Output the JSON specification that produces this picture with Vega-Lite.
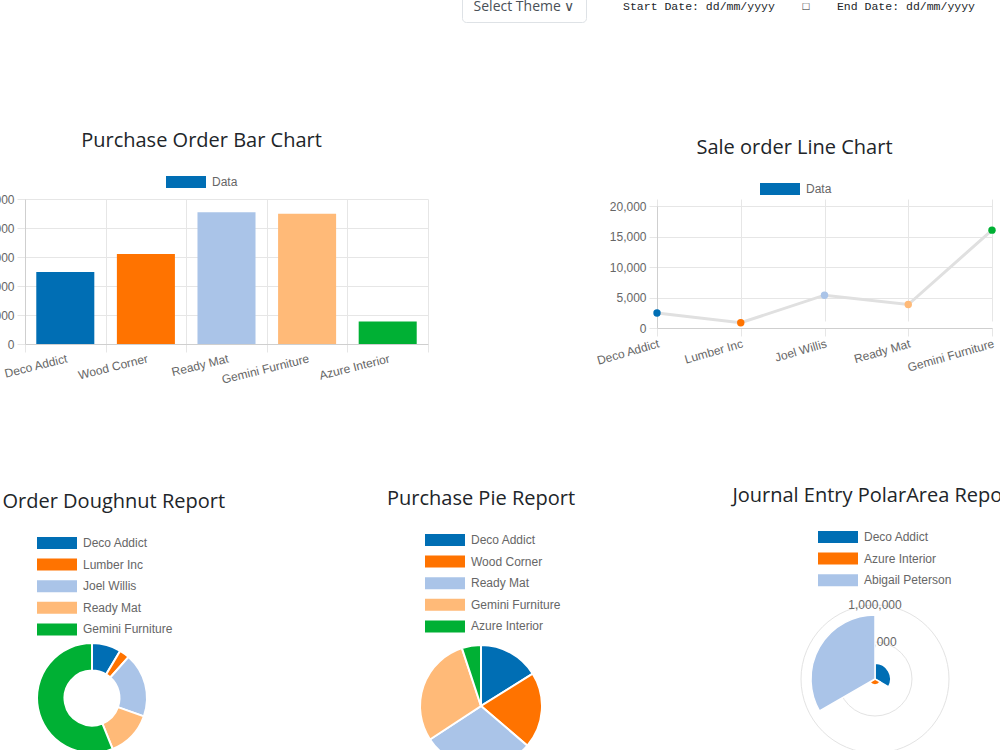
{
  "$schema": "https://vega.github.io/schema/vega-lite/v6.json",
  "autosize": {"type": "none"},
  "padding": {"left": 25, "top": -5, "right": 975, "bottom": 755},
  "background": "white",
  "config": {
    "view": {"stroke": null},
    "axis": {"labelFont": "Liberation Sans", "labelFontSize": 12, "labelColor": "#666666", "gridColor": "#e6e6e6", "tickColor": "#e6e6e6", "domainColor": "#cfcfcf", "tickSize": 8, "title": null},
    "title": {"font": "Open Sans", "fontSize": 20, "fontWeight": "normal", "color": "#212529"},
    "legend": {"labelFont": "Liberation Sans", "labelFontSize": 12, "labelColor": "#666666"}
  },
  "datasets": {
    "purchase": [
      {"partner": "Deco Addict", "amount": 24800},
      {"partner": "Wood Corner", "amount": 31000},
      {"partner": "Ready Mat", "amount": 45400},
      {"partner": "Gemini Furniture", "amount": 44900},
      {"partner": "Azure Interior", "amount": 7800}
    ],
    "sales": [
      {"partner": "Deco Addict", "amount": 2450},
      {"partner": "Lumber Inc", "amount": 860},
      {"partner": "Joel Willis", "amount": 5380},
      {"partner": "Ready Mat", "amount": 3850},
      {"partner": "Gemini Furniture", "amount": 16040}
    ],
    "journal": [
      {"partner": "Deco Addict", "amount": 212000},
      {"partner": "Azure Interior", "amount": 80000},
      {"partner": "Abigail Peterson", "amount": 865000}
    ],
    "polarTicks": [{"tick": 500000}, {"tick": 1000000}],
    "themeSelect": [{"label": "Select Theme ∨"}],
    "dateFilters": [{"label": "Start Date: dd/mm/yyyy\u00a0\u00a0\u00a0\u00a0□\u00a0\u00a0\u00a0\u00a0End Date: dd/mm/yyyy"}],
    "empty": []
  },
  "resolve": {
    "scale": {"color": "independent", "fill": "independent", "radius": "independent", "theta": "independent", "size": "independent"},
    "legend": {"color": "independent", "fill": "independent", "size": "independent"}
  },
  "columns": 3,
  "align": "each",
  "bounds": "flush",
  "spacing": {"row": 170, "column": 34},
  "concat": [
    {
      "width": 10, "height": 34,
      "data": {"name": "empty"},
      "mark": "point",
      "encoding": {}
    },
    {
      "width": 124, "height": 27,
      "view": {"stroke": "#dee2e6", "cornerRadius": 4},
      "data": {"name": "themeSelect"},
      "mark": {"type": "text", "font": "Open Sans", "fontSize": 14, "color": "#495057", "baseline": "middle", "dy": -2},
      "encoding": {"text": {"field": "label", "type": "nominal"}}
    },
    {
      "width": 636, "height": 27,
      "data": {"name": "dateFilters"},
      "mark": {"type": "text", "font": "Liberation Mono", "fontSize": 11.5, "color": "#212529", "align": "right", "baseline": "middle", "dy": -2},
      "encoding": {"text": {"field": "label", "type": "nominal"}}
    },
    {
      "width": 403, "height": 145,
      "title": {"text": "Purchase Order Bar Chart", "dx": -25, "offset": 25},
      "data": {"name": "purchase"},
      "encoding": {
        "x": {"field": "partner", "type": "nominal", "sort": null, "scale": {"paddingInner": 0, "paddingOuter": 0},
              "axis": {"labelAngle": -14, "labelAlign": "right", "labelBaseline": "top", "tickBand": "extent", "grid": true, "labelPadding": 1}},
        "y": {"field": "amount", "type": "quantitative", "scale": {"domain": [0, 50000], "nice": false},
              "axis": {"values": [0, 10000, 20000, 30000, 40000, 50000], "labelExpr": "format(datum.value, ',')", "grid": true, "labelPadding": 3}}
      },
      "layer": [
        {
          "mark": {"type": "bar", "width": {"band": 0.72}},
          "encoding": {
            "color": {"field": "partner", "type": "nominal", "sort": null,
                      "scale": {"domain": ["Deco Addict", "Wood Corner", "Ready Mat", "Gemini Furniture", "Azure Interior"], "range": ["#006eb4", "#ff7300", "#aac4e8", "#ffba78", "#00b034"]},
                      "legend": null}
          }
        },
        {
          "transform": [{"filter": "false"}],
          "mark": {"type": "bar"},
          "encoding": {
            "fill": {"datum": "Data", "type": "nominal", "scale": {"range": ["#006eb4"]},
                     "legend": {"title": null, "orient": "none", "legendX": 155, "legendY": -23, "padding": 0, "symbolType": "M-3.333,-1L3.333,-1L3.333,1L-3.333,1Z", "symbolSize": 144, "symbolStrokeWidth": 0, "labelOffset": 20}}
          }
        }
      ]
    },
    {
      "width": 161, "height": 10,
      "data": {"name": "empty"},
      "mark": "point",
      "encoding": {}
    },
    {
      "width": 335, "height": 129,
      "title": {"text": "Sale order Line Chart", "dx": -30, "offset": 25},
      "data": {"name": "sales"},
      "encoding": {
        "x": {"field": "partner", "type": "nominal", "sort": null, "scale": {"type": "point", "padding": 0},
              "axis": {"labelAngle": -16, "labelAlign": "right", "labelBaseline": "top", "grid": true, "labelPadding": 2}},
        "y": {"field": "amount", "type": "quantitative", "scale": {"domain": [0, 20000], "nice": false, "range": [129, 7]},
              "axis": {"values": [0, 5000, 10000, 15000, 20000], "labelExpr": "format(datum.value, ',')", "grid": true, "labelPadding": 3}}
      },
      "layer": [
        {"mark": {"type": "line", "color": "#e0e0e0", "strokeWidth": 3}},
        {
          "mark": {"type": "circle", "size": 55, "opacity": 1},
          "encoding": {
            "color": {"field": "partner", "type": "nominal", "sort": null,
                      "scale": {"domain": ["Deco Addict", "Lumber Inc", "Joel Willis", "Ready Mat", "Gemini Furniture"], "range": ["#006eb4", "#ff7300", "#aac4e8", "#ffba78", "#00b034"]},
                      "legend": null}
          }
        },
        {
          "transform": [{"filter": "false"}],
          "mark": {"type": "bar"},
          "encoding": {
            "fill": {"datum": "Data", "type": "nominal", "scale": {"range": ["#006eb4"]},
                     "legend": {"title": null, "orient": "none", "legendX": 117, "legendY": -16, "padding": 0, "symbolType": "M-3.333,-1L3.333,-1L3.333,1L-3.333,1Z", "symbolSize": 144, "symbolStrokeWidth": 0, "labelOffset": 20}}
          }
        }
      ]
    },
    {
      "width": 134, "height": 368,
      "title": {"text": "Sale Order Doughnut Report", "offset": 2},
      "data": {"name": "sales"},
      "transform": [{"window": [{"op": "row_number", "as": "idx"}]}],
      "mark": {"type": "arc", "outerRadius": 55, "innerRadius": 27.5, "stroke": "white", "strokeWidth": 2},
      "encoding": {
        "theta": {"field": "amount", "type": "quantitative", "stack": true},
        "order": {"field": "idx", "type": "quantitative"},
        "color": {"field": "partner", "type": "nominal", "sort": null,
                  "scale": {"domain": ["Deco Addict", "Lumber Inc", "Joel Willis", "Ready Mat", "Gemini Furniture"], "range": ["#006eb4", "#ff7300", "#aac4e8", "#ffba78", "#00b034"]},
                  "legend": {"title": null, "orient": "none", "legendX": 26, "legendY": 23, "direction": "vertical", "padding": 0, "symbolType": "M-3.333,-1L3.333,-1L3.333,1L-3.333,1Z", "symbolSize": 144, "symbolStrokeWidth": 0, "labelOffset": 20, "rowPadding": 9.6}}
      }
    },
    {
      "width": 38, "height": 384,
      "title": {"text": "Purchase Pie Report", "offset": 5},
      "data": {"name": "purchase"},
      "transform": [{"window": [{"op": "row_number", "as": "idx"}]}],
      "mark": {"type": "arc", "outerRadius": 61, "stroke": "white", "strokeWidth": 2},
      "encoding": {
        "theta": {"field": "amount", "type": "quantitative", "stack": true},
        "order": {"field": "idx", "type": "quantitative"},
        "color": {"field": "partner", "type": "nominal", "sort": null,
                  "scale": {"domain": ["Deco Addict", "Wood Corner", "Ready Mat", "Gemini Furniture", "Azure Interior"], "range": ["#006eb4", "#ff7300", "#aac4e8", "#ffba78", "#00b034"]},
                  "legend": {"title": null, "orient": "none", "legendX": -23, "legendY": 20, "direction": "vertical", "padding": 0, "symbolType": "M-3.333,-1L3.333,-1L3.333,1L-3.333,1Z", "symbolSize": 144, "symbolStrokeWidth": 0, "labelOffset": 20, "rowPadding": 9.6}}
      }
    },
    {
      "width": 436, "height": 330,
      "title": {"text": "Journal Entry PolarArea Report", "offset": 8},
      "layer": [
        {
          "data": {"name": "polarTicks"},
          "mark": {"type": "point", "shape": "circle", "filled": false, "stroke": "#e3e3e3", "strokeWidth": 1, "opacity": 1},
          "encoding": {
            "size": {"field": "tick", "type": "quantitative", "scale": {"type": "pow", "exponent": 2, "domain": [0, 1000000], "range": [0, 21904], "zero": true, "nice": false}, "legend": null}
          }
        },
        {
          "data": {"name": "polarTicks"},
          "mark": {"type": "text", "theta": 0, "font": "Liberation Sans", "fontSize": 12, "color": "#666666", "baseline": "middle", "align": "center"},
          "encoding": {
            "radius": {"field": "tick", "type": "quantitative", "scale": {"type": "linear", "domain": [0, 1000000], "range": [0, 74], "zero": true, "nice": false}},
            "text": {"field": "tick", "type": "quantitative", "format": ","}
          }
        },
        {
          "data": {"name": "journal"},
          "transform": [
            {"window": [{"op": "row_number", "as": "idx"}]},
            {"aggregate": [{"op": "count", "as": "share"}], "groupby": ["partner", "amount", "idx"]},
            {"stack": "share", "groupby": [], "sort": [{"field": "idx", "order": "ascending"}], "as": ["t0", "t1"]}
          ],
          "mark": {"type": "arc", "stroke": "white", "strokeWidth": 1.5},
          "encoding": {
            "theta": {"field": "t0", "type": "quantitative", "scale": {"domain": [0, 3], "nice": false}},
            "theta2": {"field": "t1"},
            "radius": {"field": "amount", "type": "quantitative"},
            "color": {"field": "partner", "type": "nominal", "sort": null,
                      "scale": {"domain": ["Deco Addict", "Azure Interior", "Abigail Peterson"], "range": ["#006eb4", "#ff7300", "#aac4e8"]},
                      "legend": {"title": null, "orient": "none", "legendX": 175, "legendY": 17, "direction": "vertical", "padding": 0, "symbolType": "M-3.333,-1L3.333,-1L3.333,1L-3.333,1Z", "symbolSize": 144, "symbolStrokeWidth": 0, "labelOffset": 20, "rowPadding": 9.6}}
          }
        }
      ]
    }
  ]
}
